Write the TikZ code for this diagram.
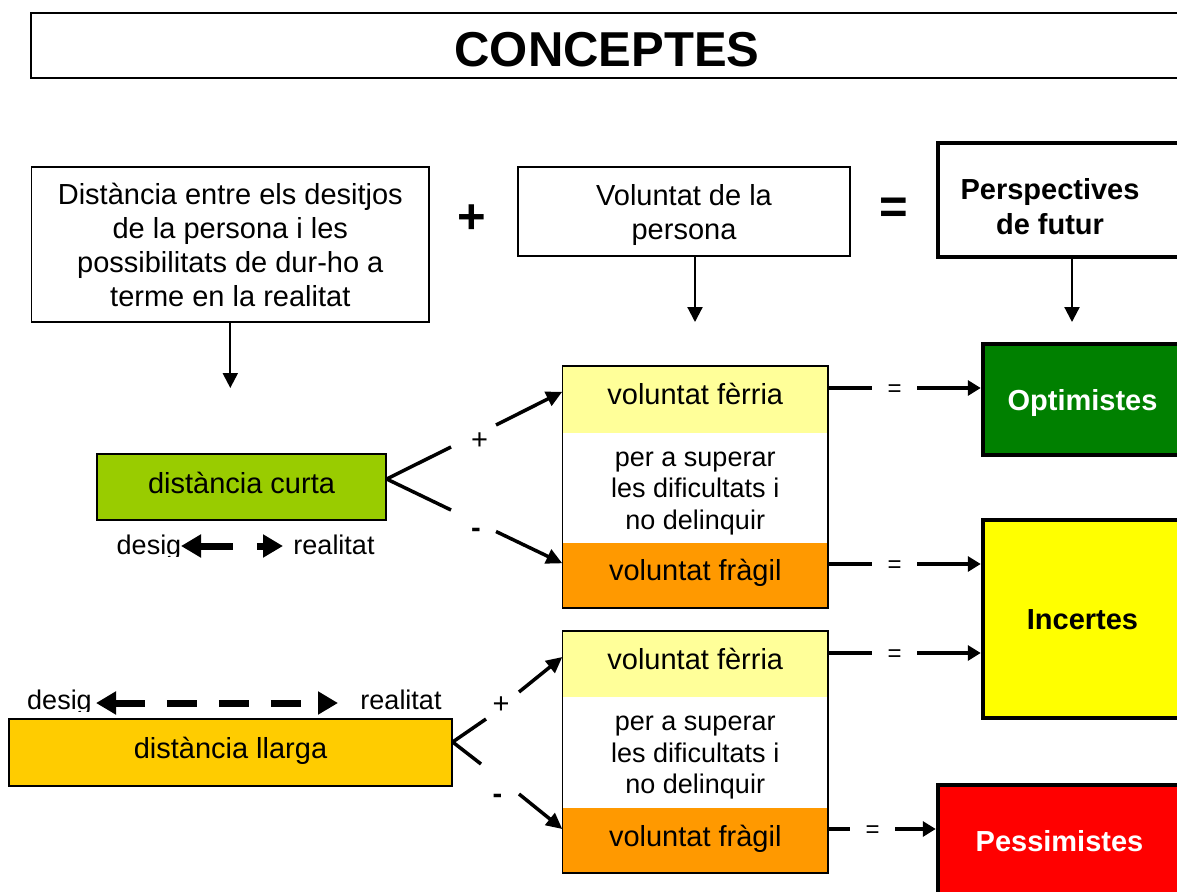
\documentclass[tikz,border=0pt]{standalone}
\usepackage{fontspec}
\setmainfont{Liberation Sans}
\usetikzlibrary{arrows.meta}
\definecolor{curtagreen}{HTML}{99CC00}
\definecolor{llargaorange}{HTML}{FFCC00}
\definecolor{bandyellow}{HTML}{FFFF99}
\definecolor{bandorange}{HTML}{FF9900}
\definecolor{optgreen}{HTML}{008000}
\definecolor{incyellow}{HTML}{FFFF00}
\definecolor{pessred}{HTML}{FF0000}
\newcommand\sr{\rule[-0.22em]{0pt}{1.17em}}
\newcommand\up[2]{\raisebox{#1}[\height][\depth]{#2}}
\begin{document}
\begin{tikzpicture}[x=1pt,y=-1pt,
  box/.style={draw=black, line width=1.3pt, rectangle, inner sep=0pt, align=center, font=\fontsize{29}{34}\selectfont},
  thickbox/.style={draw=black, line width=4.5pt, rectangle, inner sep=0pt, align=center, font=\bfseries\fontsize{29}{34}\selectfont},
  band/.style={rectangle, inner sep=0pt, minimum width=265.5pt, align=center, font=\fontsize{29}{34}\selectfont},
  bandsmall/.style={band, font=\fontsize{27}{31.6}\selectfont},
  midborder/.style={draw=black, line width=1.5pt, rectangle, inner sep=0pt, minimum width=265.5pt, minimum height=242pt},
  smalltxt/.style={font=\fontsize{27}{31.6}\selectfont, inner sep=0pt},
  bigsym/.style={font=\bfseries\fontsize{49}{49}\selectfont, inner sep=0pt},
  pluslab/.style={font=\fontsize{29}{29}\selectfont, inner sep=0pt},
  minuslab/.style={font=\bfseries\fontsize{29}{29}\selectfont, inner sep=0pt},
  eqlab/.style={font=\fontsize{24}{24}\selectfont, inner sep=0pt, minimum width=45pt},
  downarrow/.style={line width=2.2pt, -{Triangle[length=15pt,width=15pt]}},
  forkline/.style={line width=3.5pt},
  forkarrow/.style={line width=3.5pt, -{Triangle[length=16pt,width=15pt]}},
  outline/.style={line width=3.5pt},
  outarrow/.style={line width=3.5pt, -{Triangle[length=13pt,width=15pt]}},
  dblarrow/.style={line width=7pt, {Triangle[length=20pt,width=22pt]}-{Triangle[length=20pt,width=22pt]}}
]
\useasboundingbox (0,0) rectangle (1177,891);
\clip (0,0) rectangle (1177,891);

% title
\node[box, line width=1.5pt, minimum width=1152pt, minimum height=65pt, font=\bfseries\fontsize{49}{56}\selectfont] (title) at (607,45.5) {\up{-3pt}{CONCEPTES\sr}};

% top row
\node[box, minimum width=397.5pt, minimum height=155pt] (A) at (230.3,244.5)
  {Distància entre els desitjos\sr\\de la persona i les\sr\\possibilitats de dur-ho a\sr\\terme en la realitat\sr};
\node[bigsym] (plus) at (471.7,216.7) {\up{-2.5pt}{+}};
\node[box, minimum width=332pt, minimum height=89pt] (B) at (684,211.5) {Voluntat de la\sr\\persona\sr};
\node[bigsym] (equals) at (894,205.5) {\up{-5pt}{=}};
\node[thickbox, minimum width=262pt, minimum height=114pt] (persp) at (1069,200) {};
\node[font=\bfseries\fontsize{29}{35}\selectfont, align=center, inner sep=0pt] (persptxt) at (1050,206) {Perspectives\sr\\de futur\sr};

\coordinate (aend) at (230.3,388);
\coordinate (bend) at (695,322);
\coordinate (pend) at (1072,322);
\draw[downarrow] (A.south) -- (aend);
\draw[downarrow] (B.south -| bend) -- (bend);
\draw[downarrow] (persp.south -| pend) -- (pend);

% distance boxes
\node[box, fill=curtagreen, minimum width=289pt, minimum height=66pt] (curta) at (241.5,487) {\up{4pt}{distància curta\sr}};
\node[box, fill=llargaorange, minimum width=443pt, minimum height=67pt] (llarga) at (230.5,752.5) {\up{4.5pt}{distància llarga\sr}};

% desig / realitat rows (text clipped at the bottom as in the original)
\begin{scope}
\clip (0,500) rectangle (1177,556.7);
\node[smalltxt] (desig1) at (149,544.4) {desig\sr};
\node[smalltxt] (realitat1) at (334,544.4) {realitat\sr};
\end{scope}
\begin{scope}
\clip (0,660) rectangle (1177,711.7);
\node[smalltxt] (desig2) at (59.5,699.5) {desig\sr};
\node[smalltxt] (realitat2) at (401,699.5) {realitat\sr};
\end{scope}
\coordinate (r1a) at (181,546);
\coordinate (r1b) at (283,546);
\coordinate (r2a) at (96,703);
\coordinate (r2b) at (338,703);
\draw[dblarrow, dash pattern=on 33pt off 24pt] (r1a) -- (r1b);
\draw[dblarrow, dash pattern=on 30pt off 22pt] (r2a) -- (r2b);

% middle box 1
\node[band, fill=bandyellow, minimum height=67pt] (vf1) at (695.25,399.5) {\up{6pt}{voluntat fèrria\sr}};
\node[bandsmall, fill=white, minimum height=110pt] (vm1) at (695.25,488) {per a superar\sr\\les dificultats i\sr\\no delinquir\sr};
\node[band, fill=bandorange, minimum height=65pt] (vg1) at (695.25,575.5) {\up{5.5pt}{voluntat fràgil\sr}};
\node[midborder] (mid1) at (695.25,487) {};

% middle box 2
\node[band, fill=bandyellow, minimum height=66pt] (vf2) at (695.25,664) {\up{5pt}{voluntat fèrria\sr}};
\node[bandsmall, fill=white, minimum height=111pt] (vm2) at (695.25,752.5) {per a superar\sr\\les dificultats i\sr\\no delinquir\sr};
\node[band, fill=bandorange, minimum height=65pt] (vg2) at (695.25,840.5) {\up{4.5pt}{voluntat fràgil\sr}};
\node[midborder] (mid2) at (695.25,752) {};

% outcome boxes
\node[thickbox, fill=optgreen, text=white, minimum width=199pt, minimum height=111pt] (opt) at (1082.5,399.5) {Optimistes\sr};
\node[thickbox, fill=incyellow, minimum width=199pt, minimum height=198pt] (inc) at (1082.5,619) {Incertes\sr};
\node[thickbox, fill=pessred, text=white, minimum width=243pt, minimum height=111pt] (pess) at (1059.5,840.5) {Pessimistes\sr};

% fork 1
\coordinate (f1) at ([yshift=8pt]curta.east);
\coordinate (g1a) at (451,447);
\coordinate (g1b) at (496,425);
\coordinate (g1c) at (451,510);
\coordinate (g1d) at (496,531.5);
\draw[forkline] (f1) -- (g1a);
\draw[forkarrow] (g1b) -- ([yshift=7.8pt]vf1.west);
\draw[forkline] (f1) -- (g1c);
\draw[forkarrow] (g1d) -- ([yshift=12.2pt]vg1.west);
\node[pluslab] (p1) at (479.5,439.5) {\up{-1.5pt}{+}};
\node[minuslab] (m1) at (476,529) {\up{-3.5pt}{-}};

% fork 2
\coordinate (f2) at ([yshift=10.5pt]llarga.east);
\coordinate (g2a) at (486,719);
\coordinate (g2b) at (519,692);
\coordinate (g2c) at (481,764);
\coordinate (g2d) at (519,794);
\draw[forkline] (f2) -- (g2a);
\draw[forkarrow] (g2b) -- ([yshift=7pt]vf2.west);
\draw[forkline] (f2) -- (g2c);
\draw[forkarrow] (g2d) -- ([yshift=11.5pt]vg2.west);
\node[pluslab] (p2) at (501,704) {\up{-1.5pt}{+}};
\node[minuslab] (m2) at (497.5,795) {\up{-3.5pt}{-}};

% outputs
\node[eqlab] (eq1) at (894.5,388) {\up{-2.5pt}{=}};
\node[eqlab] (eq2) at (894.5,564) {\up{-2.5pt}{=}};
\node[eqlab] (eq3) at (894.5,653) {\up{-2.5pt}{=}};
\node[eqlab] (eq4) at (872.5,829) {\up{-2.5pt}{=}};
\draw[outline] ([yshift=11.5pt]vf1.east) -- (eq1.west);
\draw[outarrow] (eq1.east) -- (opt.west |- eq1.east);
\draw[outline] ([yshift=11.5pt]vg1.east) -- (eq2.west);
\draw[outarrow] (eq2.east) -- (inc.west |- eq2.east);
\draw[outline] ([yshift=11pt]vf2.east) -- (eq3.west);
\draw[outarrow] (eq3.east) -- (inc.west |- eq3.east);
\draw[outline] ([yshift=11.5pt]vg2.east) -- (eq4.west);
\draw[outarrow] (eq4.east) -- (pess.west |- eq4.east);
\end{tikzpicture}
\end{document}
